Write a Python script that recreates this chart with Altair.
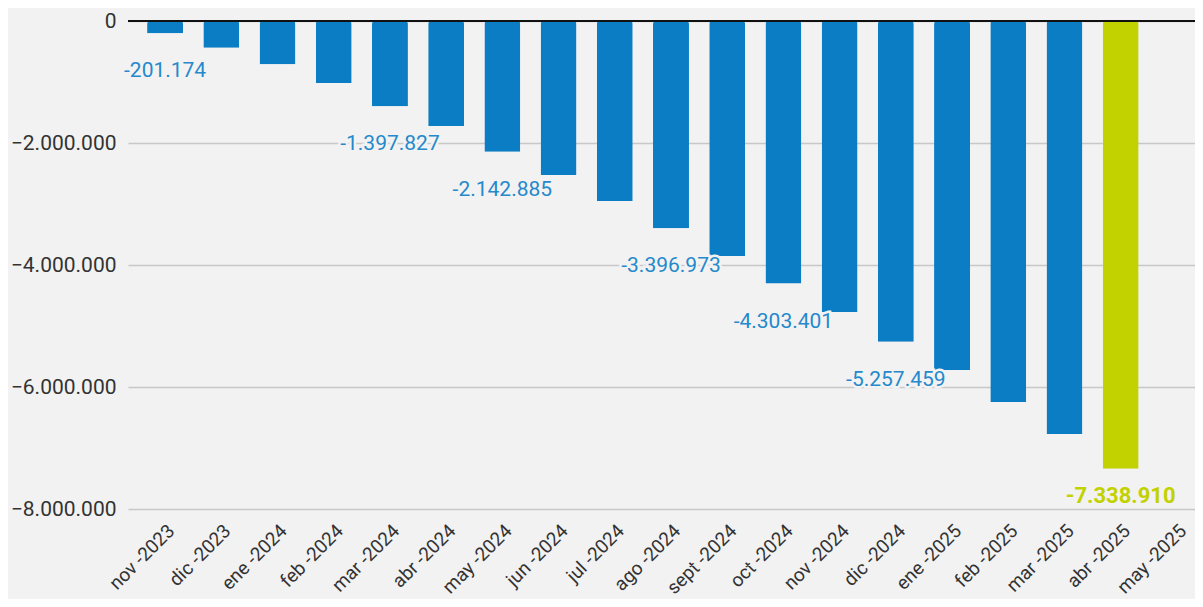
import altair as alt
import pandas as pd

months = ["nov -2023", "dic -2023", "ene -2024", "feb -2024", "mar -2024", "abr -2024",
          "may -2024", "jun -2024", "jul -2024", "ago -2024", "sept -2024", "oct -2024",
          "nov -2024", "dic -2024", "ene -2025", "feb -2025", "mar -2025", "abr -2025",
          "may -2025"]
values = [-201174, -437000, -710000, -1016000, -1397827, -1721000,
          -2142885, -2525000, -2951000, -3396973, -3852000, -4303401,
          -4770000, -5257459, -5721000, -6246000, -6770000, -7338910,
          None]
labelled = ["nov -2023", "mar -2024", "may -2024", "ago -2024", "oct -2024", "dic -2024"]
highlight = "abr -2025"

BLUE = "#0b7dc4"
BLUE_TXT = "#2589cc"
GREEN = "#c2d100"
BG = "#f2f2f2"
FONT = "Roboto"


def fmt(v):
    return "-" + f"{abs(int(v)):,}".replace(",", ".")


df = pd.DataFrame({"month": months, "value": values})
df["color"] = [GREEN if m == highlight else BLUE for m in months]
df["label"] = [fmt(v) if v is not None else "" for v in values]

x_enc = alt.X("month:N", sort=months,
              scale=alt.Scale(domain=months, range=[0, 1086], paddingInner=0.36, paddingOuter=0.34),
              axis=alt.Axis(title=None, labelAngle=-45, labelFontSize=19, labelColor="#333333",
                            labelFont=FONT, ticks=False, domain=False, labelPadding=12,
                            labelOverlap=False))
y_enc = alt.Y("value:Q", scale=alt.Scale(domain=[-8000000, 0], nice=False),
              axis=alt.Axis(title=None, values=[0, -2000000, -4000000, -6000000, -8000000],
                            labelExpr="replace(format(datum.value, ','), regexp(',', 'g'), '.')",
                            labelFontSize=21, labelColor="#333333", labelFont=FONT,
                            ticks=False, domain=False, labelPadding=12,
                            gridColor="#c8c8c8", gridWidth=1.5))

base = alt.Chart(df)

bars = base.mark_bar(cornerRadiusEnd=3).encode(
    x=x_enc, y=y_enc, color=alt.Color("color:N", scale=None)
)

zero = alt.Chart(pd.DataFrame({"z": [0]})).mark_rule(color="#111111", strokeWidth=2).encode(
    y="z:Q", x=alt.value(0), x2=alt.value(1075)
)

blue_df = df[df["month"].isin(labelled)]
green_df = df[df["month"] == highlight]

blue_halo = alt.Chart(blue_df).mark_text(
    dy=38, fontSize=21, font=FONT, stroke=BG, strokeWidth=5, fill=BG
).encode(x=alt.X("month:N", sort=months), y="value:Q", text="label:N")
blue_txt = alt.Chart(blue_df).mark_text(
    dy=38, fontSize=21, font=FONT, color=BLUE_TXT
).encode(x=alt.X("month:N", sort=months), y="value:Q", text="label:N")
green_txt = alt.Chart(green_df).mark_text(
    dy=27, fontSize=22, font=FONT, fontWeight="bold", color=GREEN
).encode(x=alt.X("month:N", sort=months), y="value:Q", text="label:N")

chart = alt.layer(bars, zero, blue_halo, blue_txt, green_txt).properties(
    width=1067, height=488,
    background=BG,
    padding={"left": 120, "top": 13, "right": 0, "bottom": 90},
    autosize=alt.AutoSizeParams(type="none"),
).configure_view(stroke=None)

chart.save("out.html", embed_options={"renderer": "svg", "actions": False})
